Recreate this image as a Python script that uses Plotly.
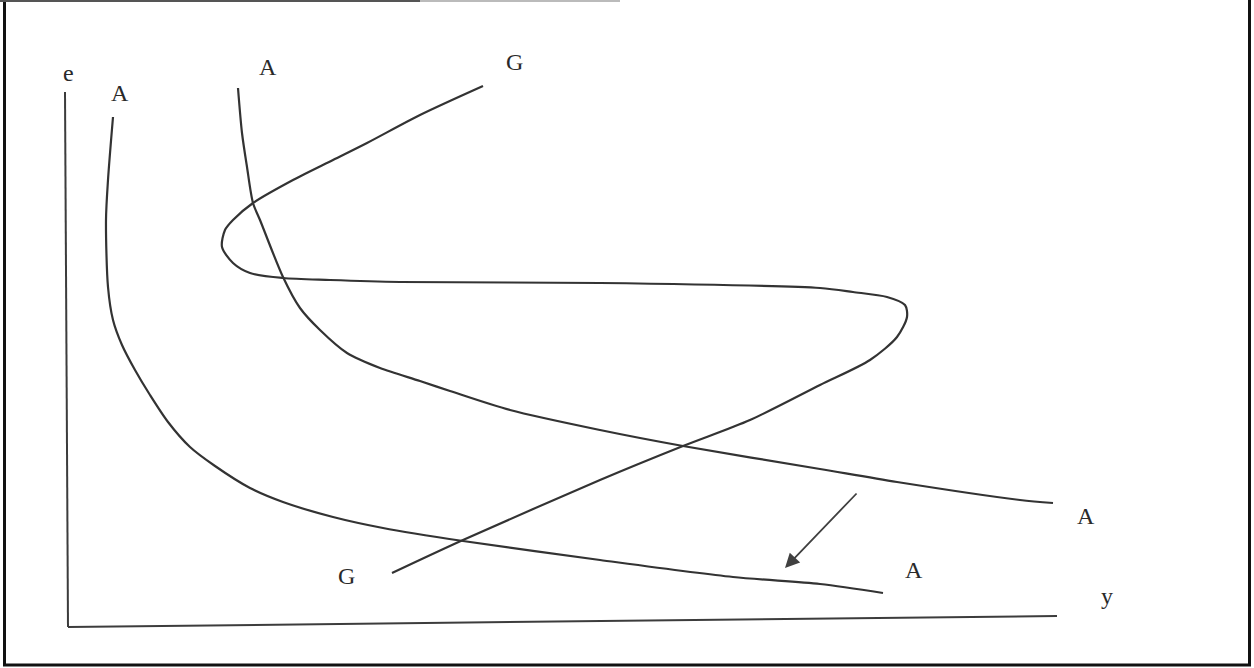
import plotly.graph_objects as go

# Curve A (left): exchange-rate / output schedule
a1_x = [46, 41, 39, 41, 46, 55, 68, 83, 101, 123, 148, 183, 216, 266, 316, 396, 533, 666, 753, 816]
a1_y = [510, 447, 407, 340, 307, 282, 257, 232, 205, 180, 161, 139, 125, 110, 99, 86, 67, 50, 43, 34]

# Curve A (right), before the shift
a2_x = [171, 175, 180, 186, 193, 216, 233, 253, 280, 313, 353, 383, 443, 533, 616, 753, 830, 953, 986]
a2_y = [539, 494, 460, 424, 407, 350, 319, 297, 274, 259, 246, 236, 217, 197, 181, 158, 145, 127, 124]

# Curve G (backward-bending loop)
g_x = [325, 396, 533, 616, 683, 753, 803, 830, 840, 838, 820, 786, 753, 533, 333, 263, 216, 183,
       166, 155, 158, 166, 186, 226, 266, 300, 353, 416]
g_y = [54, 87, 147, 181, 207, 242, 267, 290, 310, 322, 330, 335, 339, 344, 345, 347, 349, 354,
       364, 380, 397, 407, 424, 447, 467, 484, 512, 541]

# Axes of the diagram (hand-drawn, slightly skewed)
e_axis_x = [-2, 1]
e_axis_y = [535, 0]
y_axis_x = [1, 990]
y_axis_y = [0, 11]

# Shift arrow: tail and head
arrow_tail = (791, 135)
arrow_head = (718, 59)

# Curve labels
label_text = ["e", "A", "A", "G", "A", "A", "y", "G"]
label_x = [1, 53, 201, 447, 1019, 847, 1040, 279]
label_y = [554, 534, 560, 565, 111, 57, 31, 51]

INK = "#333333"

fig = go.Figure()

for xs, ys in [(e_axis_x, e_axis_y), (y_axis_x, y_axis_y)]:
    fig.add_trace(go.Scatter(x=xs, y=ys, mode="lines",
                             line=dict(color="#3c3c3c", width=2), hoverinfo="skip"))

for xs, ys in [(a1_x, a1_y), (a2_x, a2_y), (g_x, g_y)]:
    fig.add_trace(go.Scatter(x=xs, y=ys, mode="lines",
                             line=dict(color=INK, width=2.2, shape="spline", smoothing=0.8),
                             hoverinfo="skip"))

fig.add_annotation(x=arrow_head[0], y=arrow_head[1], ax=arrow_tail[0], ay=arrow_tail[1],
                   xref="x", yref="y", axref="x", ayref="y", text="",
                   showarrow=True, arrowhead=2, arrowsize=1.6, arrowwidth=1.8,
                   arrowcolor="#404040")

for t, x, y in zip(label_text, label_x, label_y):
    fig.add_annotation(x=x, y=y, xref="x", yref="y", text=t, showarrow=False,
                       font=dict(family="Liberation Serif", size=24, color="#2a2a2a"))

# Page frame
W, H = 1254, 668
def px(v):
    return v / W
def py(v):
    return 1 - v / H

frame = dict(color="#111111", width=3)
fig.add_shape(type="line", xref="paper", yref="paper", x0=px(4.5), y0=py(0), x1=px(4.5), y1=py(665), line=frame)
fig.add_shape(type="line", xref="paper", yref="paper", x0=px(3), y0=py(665), x1=px(1251), y1=py(665), line=frame)
fig.add_shape(type="line", xref="paper", yref="paper", x0=px(1249.5), y0=py(0), x1=px(1249.5), y1=py(665), line=frame)
fig.add_shape(type="line", xref="paper", yref="paper", x0=px(0), y0=py(1), x1=px(420), y1=py(1),
              line=dict(color="#555555", width=2))
fig.add_shape(type="line", xref="paper", yref="paper", x0=px(420), y0=py(1), x1=px(620), y1=py(1),
              line=dict(color="#bbbbbb", width=2))

fig.update_layout(
    width=W, height=H,
    margin=dict(l=0, r=0, t=0, b=0),
    paper_bgcolor="white", plot_bgcolor="white",
    showlegend=False,
    xaxis=dict(range=[-67, 1187], visible=False, fixedrange=True),
    yaxis=dict(range=[-41, 627], visible=False, fixedrange=True),
)

fig.write_html("out.html", config={"displayModeBar": False})
